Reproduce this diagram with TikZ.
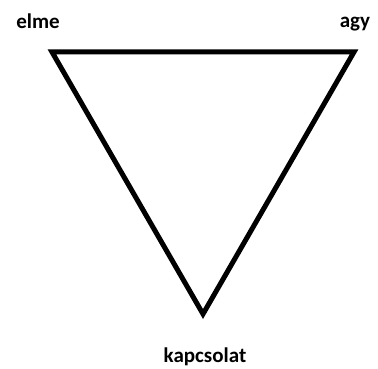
\documentclass[tikz,border=0pt]{standalone}
\usepackage{fontspec}
\setmainfont{Carlito}
\usetikzlibrary{positioning}
\tikzset{
  corner/.style={inner sep=0pt, minimum size=0pt},
  lbl/.style={font=\fontsize{21}{25}\selectfont\bfseries, inner sep=0pt, anchor=base},
  edge/.style={line width=5pt, line join=miter},
}
\begin{document}
\begin{tikzpicture}[x=1pt, y=-1pt]
  \useasboundingbox (0,0) rectangle (378,369);
  \coordinate (mind) at (52,52);
  \coordinate (brain) at (354,52);
  \coordinate (link) at (203,314);
  \node[lbl] (mindlbl) at (38,29) {elme};
  \node[lbl] (brainlbl) at (355,28) {agy};
  \node[lbl] (linklbl) at (205,362) {kapcsolat};
  \draw[edge] (mind) -- (brain) -- (link) -- cycle;
\end{tikzpicture}
\end{document}
